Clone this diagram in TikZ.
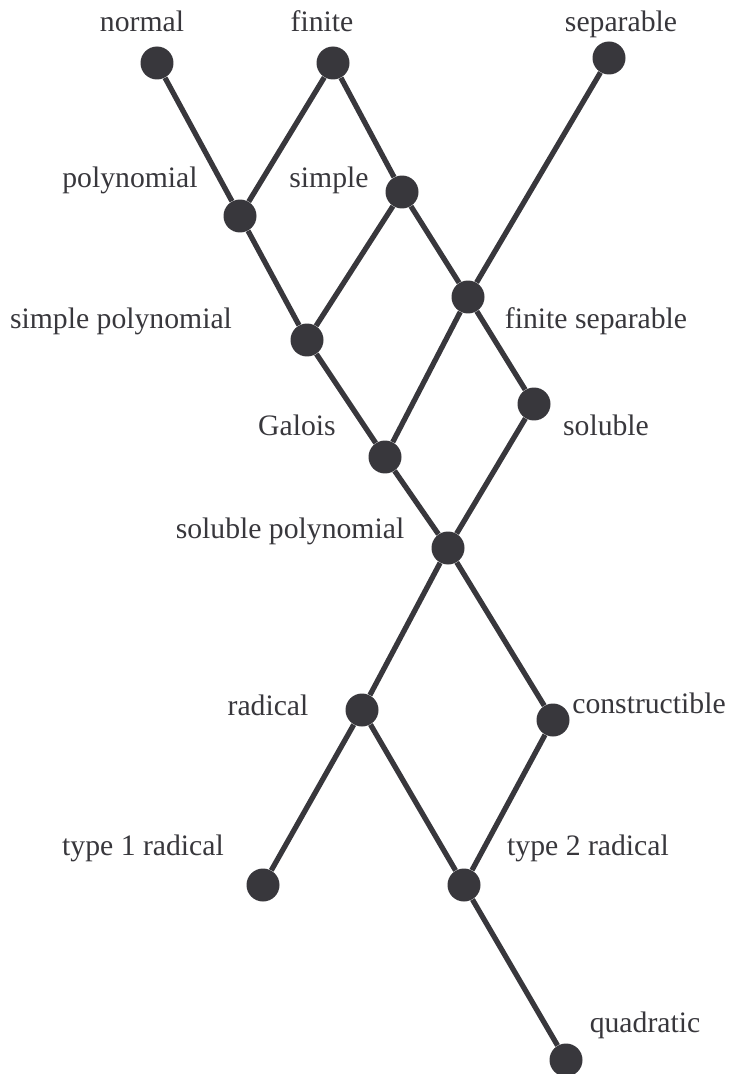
\documentclass[tikz,border=0pt]{standalone}
\usepackage{fontspec}
\setmainfont{Liberation Serif}
\newfontfamily\lblfont{Liberation Serif}
\usepackage{tikz}
\definecolor{cInk}{HTML}{38373c}
\definecolor{cDot}{HTML}{38373c}
\tikzset{
  dot/.style={circle, fill=cDot, draw=none, inner sep=0pt, minimum size=0.66cm},
  edge/.style={draw=cDot, line width=3pt},
  lbl/.style={anchor=base, inner sep=0pt, text=cInk, font=\lblfont\fontsize{16.9}{20}\selectfont},
}

\begin{document}
\begin{tikzpicture}[x=0.02cm, y=-0.02cm]
\useasboundingbox (0,0) rectangle (730,1074);

% ===================== dots =====================
\node[dot] (normal)   at (157,63)   {};
\node[dot] (finite)   at (333,63)   {};
\node[dot] (separ)    at (609,58)   {};
\node[dot] (poly)     at (240,216)  {};
\node[dot] (simple)   at (402,192)  {};
\node[dot] (simpoly)  at (307,340)  {};
\node[dot] (finsep)   at (468,297)  {};
\node[dot] (galois)   at (385,457)  {};
\node[dot] (soluble)  at (534,404)  {};
\node[dot] (solpoly)  at (448,548)  {};
\node[dot] (radical)  at (362,710)  {};
\node[dot] (constr)   at (553,720)  {};
\node[dot] (typeone)  at (263,885)  {};
\node[dot] (typetwo)  at (464,885)  {};
\node[dot] (quad)     at (566,1060) {};

% ===================== labels =====================
\node[lbl] (lnormal)  at (142,32)  {normal};
\node[lbl] (lfinite)  at (322,32)  {finite};
\node[lbl] (lsepar)   at (621,32)  {separable};
\node[lbl] (lpoly)    at (130,188) {polynomial};
\node[lbl] (lsimple)  at (329,188) {simple};
\node[lbl] (lsimpoly) at (121,328) {simple polynomial};
\node[lbl] (lfinsep)  at (596,328) {finite separable};
\node[lbl] (lgalois)  at (297,435) {Galois};
\node[lbl] (lsoluble) at (606,435) {soluble};
\node[lbl] (lsolpoly) at (290,538) {soluble polynomial};
\node[lbl] (lradical) at (268,715) {radical};
\node[lbl] (lconstr)  at (649,713) {constructible};
\node[lbl] (ltypeone) at (143,855) {type 1 radical};
\node[lbl] (ltypetwo) at (588,855) {type 2 radical};
\node[lbl] (lquad)    at (645,1032) {quadratic};

% ===================== edges =====================
\draw[edge] (normal) -- (poly) -- (simpoly) -- (galois) -- (solpoly);
\draw[edge] (finite) -- (poly);
\draw[edge] (finite) -- (simple) -- (finsep) -- (soluble) -- (solpoly);
\draw[edge] (simple) -- (simpoly);
\draw[edge] (separ) -- (finsep) -- (galois);
\draw[edge] (solpoly) -- (radical) -- (typeone);
\draw[edge] (solpoly) -- (constr) -- (typetwo);
\draw[edge] (radical) -- (typetwo) -- (quad);

\end{tikzpicture}
\end{document}
